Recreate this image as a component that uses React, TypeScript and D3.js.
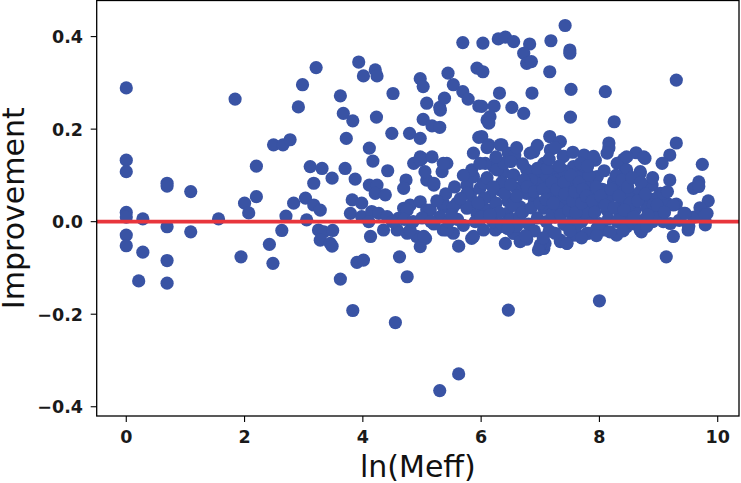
import React from "react";
import * as d3 from "d3";

// ln(Meff) vs Improvement
const sparsePoints: [number, number][] = [
  [0, 0.289], [0, 0.133], [0, 0.108], [0, 0.02], [0, 0.01], [0, -0.029], [0, -0.052],
  [0.21, -0.128], [0.28, 0.006], [0.28, -0.066],
  [0.69, 0.083], [0.69, 0.077], [0.69, -0.011], [0.69, -0.084], [0.69, -0.133],
  [1.09, 0.065], [1.09, -0.022], [1.56, 0.006], [1.84, 0.265],
  [2.0, 0.04], [2.07, 0.019], [1.94, -0.076],
  [5.69, 0.387], [6.03, 0.386], [3.21, 0.333], [3.93, 0.345], [4.01, 0.315], [4.21, 0.328], [4.24, 0.315],
  [2.98, 0.296], [2.91, 0.248], [3.62, 0.272], [4.51, 0.277], [4.97, 0.309], [5.02, 0.292], [5.44, 0.321],
  [5.53, 0.296], [5.69, 0.281], [5.78, 0.265], [5.93, 0.332], [6.03, 0.324], [3.67, 0.234], [3.83, 0.218],
  [4.23, 0.226], [5.08, 0.256], [5.30, 0.247], [5.38, 0.267], [5.96, 0.25], [6.10, 0.22], [5.02, 0.221],
  [5.17, 0.207], [5.30, 0.204], [4.49, 0.191], [4.79, 0.191], [4.97, 0.18], [3.72, 0.18], [2.49, 0.166],
  [2.65, 0.166], [2.77, 0.177], [4.11, 0.159], [4.17, 0.131], [5.96, 0.182], [5.87, 0.148], [2.20, 0.12],
  [3.11, 0.119], [3.31, 0.115], [3.70, 0.115], [3.48, 0.094], [3.17, 0.083], [3.87, 0.092], [4.42, 0.11],
  [4.86, 0.126], [5.0, 0.137], [5.17, 0.14], [5.42, 0.126], [5.34, 0.108], [4.73, 0.09], [4.69, 0.072],
  [5.08, 0.09], [5.20, 0.079], [4.11, 0.079], [4.24, 0.079], [4.21, 0.061], [4.38, 0.058], [5.76, 0.079],
  [5.87, 0.097], [5.82, 0.061], [5.98, 0.072], [2.2, 0.054], [2.83, 0.04], [3.03, 0.051],
  [3.17, 0.036], [3.28, 0.025], [2.70, 0.012], [3.05, 0.004], [2.63, -0.019], [2.42, -0.049], [3.82, 0.047],
  [3.98, 0.04], [3.79, 0.018], [3.98, 0.011], [4.15, 0.022], [4.27, 0.018], [4.10, 0.0], [4.41, 0.011],
  [3.25, -0.018], [3.34, -0.022], [3.49, -0.019], [3.28, -0.04], [3.45, -0.047], [4.13, -0.032], [4.35, -0.018],
  [4.69, 0.029], [4.80, 0.036], [4.97, 0.043], [5.08, 0.025], [4.60, 0.007], [4.58, -0.018], [4.75, -0.025],
  [4.91, -0.032], [5.06, -0.036], [5.36, 0.032], [5.59, 0.04], [5.76, 0.029], [5.87, 0.043], [5.36, -0.018],
  [5.53, -0.025], [5.62, -0.053], [5.84, -0.036], [6.09, 0.025], [5.98, 0.004],
  [2.48, -0.09], [3.48, -0.053], [3.62, -0.124], [3.90, -0.088], [4.01, -0.083], [3.83, -0.192],
  [4.62, -0.076], [4.75, -0.119], [4.55, -0.218], [5.30, -0.365], [5.62, -0.329], [4.97, -0.054],
  [6.41, -0.047], [6.77, -0.038], [7.06, -0.058], [7.08, -0.047], [7.34, -0.043], [7.45, -0.047],
  [6.46, -0.191], [8.0, -0.171], [9.13, -0.076], [9.25, -0.032], [7.62, -0.029], [7.82, -0.025],
  [8.29, -0.029], [8.71, -0.022], [9.50, -0.018], [6.24, -0.018], [6.55, -0.025], [8.07, -0.018],
];

const upperPoints: [number, number][] = [
  [7.42, 0.424], [6.29, 0.395], [6.41, 0.399], [6.55, 0.389], [6.82, 0.384], [6.72, 0.364], [6.77, 0.342],
  [6.85, 0.346], [7.18, 0.391], [7.50, 0.371], [7.50, 0.364], [7.16, 0.324], [9.30, 0.306], [6.31, 0.278],
  [6.86, 0.278], [7.52, 0.286], [8.10, 0.281], [6.01, 0.249], [6.22, 0.25], [6.15, 0.227], [6.13, 0.213],
  [6.52, 0.247], [6.72, 0.234], [7.51, 0.226], [8.25, 0.216], [6.01, 0.184], [6.13, 0.166], [6.35, 0.166],
  [6.46, 0.148], [6.57, 0.144], [6.89, 0.151], [7.16, 0.184], [7.34, 0.173], [7.17, 0.155], [7.39, 0.141],
  [8.16, 0.17], [8.16, 0.159], [7.74, 0.144], [7.93, 0.133], [8.41, 0.135], [8.62, 0.149], [8.77, 0.137],
  [9.30, 0.17], [9.19, 0.144], [9.06, 0.126], [9.74, 0.124], [8.44, 0.112], [8.69, 0.105], [9.19, 0.09],
  [9.68, 0.086], [9.59, 0.072], [9.84, 0.045], [9.82, 0.018], [9.79, 0.0], [9.51, -0.011], [8.89, 0.079],
  [9.03, 0.061], [9.30, 0.038], [9.43, 0.018],
  [9.14, 0.04], [8.75, 0.047], [8.55, 0.054], [8.35, 0.076], [8.24, 0.086], [7.96, 0.097], [7.79, 0.105],
  [7.68, 0.112], [7.56, 0.119], [7.45, 0.105], [7.25, 0.105], [7.06, 0.086], [6.94, 0.105], [6.77, 0.112],
  [6.55, 0.101], [6.38, 0.105], [6.21, 0.119], [6.07, 0.126],
  [5.31, 0.241], [6.32, 0.166], [4.97, 0.14],
];

const densePoints: [number, number][] = [
  [4.97, 0.133], [5.36, 0.126], [5.05, 0.108], [5.20, 0.083], [5.14, 0.025], [4.75, 0.025], [4.80, -0.018],
  [5.03, -0.032], [5.42, -0.018], [5.36, 0.04], [5.53, 0.032], [5.76, 0.061], [5.84, 0.112], [5.98, 0.126],
  [6.04, 0.083], [6.15, 0.054], [6.32, 0.069], [6.27, 0.112], [6.38, 0.126], [5.87, -0.032], [6.04, -0.018],
  [6.32, -0.011], [5.93, 0.018], [5.76, 0.032], [6.10, 0.025], [6.44, 0.018],
  [4.5, 0.0], [4.7, 0.005], [4.85, 0.0], [5.0, 0.008], [5.2, -0.005], [5.3, 0.01], [5.45, 0.0], [5.6, 0.005],
  [5.7, -0.008], [5.9, 0.0], [6.0, 0.01],
  [6.55, -0.025], [6.66, -0.043], [7.0, -0.05], [7.34, -0.04], [7.56, -0.029], [7.79, -0.025], [7.96, -0.014],
  [8.18, -0.022], [6.97, -0.061], [7.45, -0.047],
  [6.55, 0.099], [6.83, 0.148], [7.06, 0.126], [7.39, 0.141], [7.68, 0.126], [7.90, 0.141], [8.13, 0.148],
  [8.30, 0.126], [7.0, 0.082], [7.28, 0.09], [7.62, 0.097], [7.96, 0.097], [8.24, 0.082], [6.77, 0.061],
  [7.34, 0.054], [7.90, 0.061], [8.18, 0.054], [6.66, 0.032], [7.06, 0.029], [7.45, 0.04], [7.85, 0.032],
  [8.13, 0.025],
  [6.5, 0.005], [6.65, 0.012], [6.8, -0.005], [6.95, 0.008], [7.1, 0.0], [7.25, 0.01], [7.4, -0.006],
  [7.55, 0.006], [7.7, 0.0], [7.85, 0.01], [8.0, -0.004], [8.15, 0.006], [8.3, 0.0], [8.45, 0.008],
  [8.6, -0.005], [8.75, 0.004], [8.9, 0.0], [9.05, 0.006], [9.2, -0.004], [9.35, 0.003],
  [6.6, 0.072], [6.9, 0.045], [7.15, 0.062], [7.2, 0.018], [7.5, 0.075], [7.65, 0.05], [7.75, 0.02],
  [8.05, 0.07], [8.4, 0.04], [8.35, 0.015], [6.85, 0.09], [7.4, 0.11], [7.1, 0.1], [6.7, 0.125], [7.8, 0.08],
  [8.5, 0.065], [7.3, 0.03], [6.45, 0.045], [6.35, 0.085], [6.25, 0.04], [6.2, 0.0], [6.35, -0.005],
  [7.15, -0.02], [7.6, -0.01], [8.0, 0.04], [8.6, 0.025], [8.8, 0.03], [8.95, 0.05], [9.0, 0.02], [9.6, 0.01],
  [9.7, 0.03],
  [8.46, 0.14], [8.75, 0.14], [8.69, 0.108], [8.46, 0.112], [9.68, 0.076], [8.86, 0.079], [8.69, 0.065],
  [9.08, 0.061], [9.25, 0.036], [9.45, 0.018], [9.79, 0.014], [9.79, -0.007], [9.51, -0.009], [8.91, 0.011],
  [9.08, 0.0], [8.69, -0.018], [8.46, -0.011], [8.52, 0.04], [8.91, 0.036],
];

const coreCluster: [number, number][] = [
  [6.05, 0.05], [6.1, 0.095], [6.2, 0.075], [6.3, 0.02], [6.4, 0.06], [6.5, 0.08], [6.55, 0.035],
  [6.6, 0.055], [6.7, 0.02], [6.72, 0.09], [6.78, 0.075], [6.85, 0.03], [6.9, 0.065], [6.95, 0.115],
  [7.0, 0.04], [7.05, 0.07], [7.1, 0.048], [7.12, 0.115], [7.2, 0.085], [7.22, 0.04], [7.28, 0.07],
  [7.32, 0.12], [7.35, 0.015], [7.4, 0.085], [7.42, 0.06], [7.48, 0.025], [7.52, 0.1], [7.55, 0.045],
  [7.58, 0.065], [7.6, 0.02], [7.66, 0.085], [7.7, 0.04], [7.72, 0.07], [7.78, 0.055], [7.82, 0.1],
  [7.88, 0.045], [7.92, 0.02], [7.95, 0.075], [8.02, 0.055], [8.08, 0.11], [8.1, 0.035], [8.2, 0.07],
  [8.25, 0.03], [8.28, 0.1], [8.33, 0.055], [8.38, 0.09], [8.42, 0.025], [8.48, 0.075], [8.55, 0.095],
  [8.58, 0.01], [8.65, 0.045], [8.7, 0.085], [8.78, 0.06], [8.82, 0.015], [8.9, 0.095], [8.98, 0.035],
  [9.1, 0.02], [9.15, 0.065], [6.6, -0.01], [6.9, -0.02], [7.25, -0.025], [7.5, -0.02], [7.7, -0.035],
  [7.95, -0.03], [8.4, -0.02], [8.8, -0.01], [6.15, 0.015], [6.45, -0.015], [6.75, -0.03], [7.05, -0.035],
  [6.1, 0.16], [6.25, 0.14], [6.6, 0.16], [6.95, 0.165], [7.25, 0.16], [7.55, 0.15], [7.8, 0.12],
  [6.5, 0.13], [7.15, 0.135], [5.5, 0.015], [5.65, 0.05], [5.55, 0.075], [5.4, 0.06], [5.25, 0.045],
  [5.15, 0.0], [5.7, 0.1], [5.95, 0.04],
];

const xTicks = [0, 2, 4, 6, 8, 10];
const yTicks = [-0.4, -0.2, 0.0, 0.2, 0.4];
const xLabel = "ln(Meff)";
const yLabel = "Improvement";

const W = 741;
const H = 483;
const left = 96.7;
const right = 739;
const top = 0.5;
const bottom = 416;

export default function App() {
  const x = d3.scaleLinear().domain([-0.5, 10.36]).range([left, right]);
  const y = d3.scaleLinear().domain([-0.42, 0.478]).range([bottom, top]);
  const all = [...sparsePoints, ...upperPoints, ...densePoints, ...coreCluster];
  const font = "'DejaVu Sans', sans-serif";
  const fmt = (v: number) => (v < 0 ? "\u2212" : "") + Math.abs(v).toFixed(1);
  return (
    <svg
      width={W}
      height={H}
      style={{ position: "absolute", left: 0, top: 0, background: "#fff" }}
    >
      <rect x={0} y={0} width={W} height={H} fill="#fff" />
      <g>
        {all.map((p, i) => (
          <circle key={i} cx={x(p[0])} cy={y(p[1])} r={6.6} fill="#3953a4" />
        ))}
      </g>
      <line x1={left} x2={right} y1={y(0)} y2={y(0)} stroke="#e8353c" strokeWidth={3.6} />
      <rect x={left} y={top} width={right - left} height={bottom - top} fill="none" stroke="#000" strokeWidth={1.3} />
      {xTicks.map((t) => (
        <g key={"x" + t}>
          <line x1={x(t)} x2={x(t)} y1={bottom} y2={bottom + 6} stroke="#000" strokeWidth={1.1} />
          <text x={x(t)} y={443} textAnchor="middle" fontFamily={font} fontSize={17.5} fontWeight="bold" fill="#1a1a1a">
            {t}
          </text>
        </g>
      ))}
      {yTicks.map((t) => (
        <g key={"y" + t}>
          <line x1={left - 6} x2={left} y1={y(t)} y2={y(t)} stroke="#000" strokeWidth={1.1} />
          <text x={83} y={y(t) + 6.5} textAnchor="end" fontFamily={font} fontSize={17.5} fontWeight="bold" fill="#1a1a1a">
            {fmt(t)}
          </text>
        </g>
      ))}
      <text x={(left + right) / 2} y={477} textAnchor="middle" fontFamily={font} fontSize={30} fill="#111">
        {xLabel}
      </text>
      <text
        transform={`translate(24,${(top + bottom) / 2}) rotate(-90)`}
        textAnchor="middle"
        fontFamily={font}
        fontSize={30}
        fill="#111"
      >
        {yLabel}
      </text>
    </svg>
  );
}
